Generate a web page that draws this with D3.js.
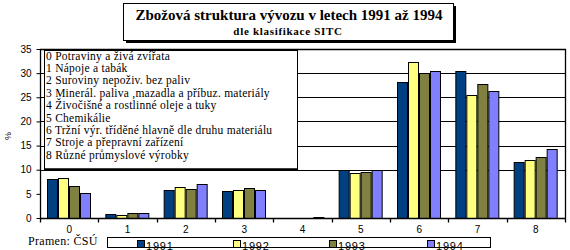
<!DOCTYPE html>
<html><head><meta charset="utf-8">
<script src="https://cdn.jsdelivr.net/npm/d3@7"></script>
<style>
html,body{margin:0;padding:0;background:#fff;}
svg{display:block;}
</style></head>
<body>
<svg id="chart" width="570" height="250"></svg>
<script>
const categories = ["0","1","2","3","4","5","6","7","8"];
const categoryNames = [
  "Potraviny a živá zvířata",
  "Nápoje a tabák",
  "Suroviny nepoživ. bez paliv",
  "Minerál. paliva ,mazadla a příbuz. materiály",
  "Živočišné a rostlinné oleje a tuky",
  "Chemikálie",
  "Tržní výr. tříděné hlavně dle druhu materiálu",
  "Stroje a přepravní zařízení",
  "Různé průmyslové výrobky"
];
const years = ["1991","1992","1993","1994"];
const v1991 = [8.0, 0.9, 5.7, 5.5, 0, 9.9, 28.2, 30.5, 11.5];
const v1992 = [8.2, 0.7, 6.5, 5.7, 0, 9.4, 32.4, 25.5, 12.1];
const v1993 = [6.6, 1.1, 6.1, 6.3, 0, 9.6, 30.0, 27.8, 12.7];
const v1994 = [5.1, 1.1, 7.1, 5.7, 0.3, 9.9, 30.5, 26.2, 14.2];
const yTicks = [0,5,10,15,20,25,30,35];
const gridTicks = [10,15,20,25,30];
const colors = ["#004080","#FFFF80","#808040","#8080FF"];
const title = "Zbožová struktura vývozu v letech 1991 až 1994";
const subtitle = "dle klasifikace SITC";
const source = "Pramen: ČSÚ";
const yLabel = "%";

const series = [v1991, v1992, v1993, v1994];
const svg = d3.select("#chart");
const serif = "'Liberation Serif', 'DejaVu Serif', serif";
const sans = "'Liberation Sans', Arial, sans-serif";

const pL = 40, pR = 565, pT = 49, pB = 218;
const x0 = d3.scaleBand().domain(categories).range([pL, pR]).padding(0);
const bw = x0.bandwidth();
const x1 = d3.scaleBand().domain(years).range([bw*0.125, bw*0.875]).padding(0);
const y = d3.scaleLinear().domain([0,35]).range([pB, pT]);

// gridlines
svg.append("g").selectAll("line").data(gridTicks).join("line")
  .attr("x1", pL).attr("x2", pR)
  .attr("y1", d => Math.round(y(d))+0.5).attr("y2", d => Math.round(y(d))+0.5)
  .attr("stroke", "#000").attr("stroke-width", 1);
// plot top & right border
svg.append("path")
  .attr("d", `M${pL},${pT+0.5}H${pR+0.5}V${pB}`)
  .attr("fill","none").attr("stroke","#000").attr("stroke-width",1.3);

// bars
const groups = svg.append("g").selectAll("g").data(categories).join("g")
  .attr("transform", d => `translate(${x0(d)},0)`);
groups.selectAll("rect").data((c,i) => years.map((yr,j) => ({yr, v: series[j][i], j})).filter(d => d.v > 0))
  .join("rect")
  .attr("x", d => Math.round(x1(d.yr))+0.5)
  .attr("y", d => Math.round(y(d.v))+0.5)
  .attr("width", Math.round(x1.bandwidth())-1)
  .attr("height", d => Math.max(0, Math.round(y(0)) - Math.round(y(d.v))))
  .attr("fill", d => colors[d.j])
  .attr("stroke", "#000").attr("stroke-width", 1);

// y axis
const yAxis = d3.axisLeft(y).tickValues(yTicks).tickSize(4).tickPadding(5).tickFormat(d3.format("d"));
const gy = svg.append("g").attr("transform", `translate(${pL+0.5},0)`).call(yAxis);
gy.select(".domain").attr("d", `M0,${pT}V${pB}`).attr("stroke","#000").attr("stroke-width",1.3);
gy.selectAll(".tick line").attr("stroke","#000");
gy.selectAll(".tick text").attr("font-family", sans).attr("font-size", 10).attr("fill","#000");

// x axis
const gx = svg.append("g").attr("transform", `translate(0,${pB+0.5})`);
gx.append("line").attr("x1", pL).attr("x2", pR+1).attr("stroke","#000").attr("stroke-width",1.3);
const bounds = categories.map(c => x0(c)).concat([pR]);
gx.selectAll(".bt").data(bounds).join("line").attr("class","bt")
  .attr("x1", d => Math.round(d)+0.5).attr("x2", d => Math.round(d)+0.5)
  .attr("y1", 0).attr("y2", 4).attr("stroke","#000").attr("stroke-width",1.3);
gx.selectAll("text").data(categories).join("text")
  .attr("x", d => x0(d) + bw/2).attr("y", 14.5)
  .attr("text-anchor","middle").attr("font-family", sans).attr("font-size", 10)
  .text(d => d);

// y label
svg.append("text").attr("transform","translate(11,136) rotate(-90)")
  .attr("text-anchor","middle").attr("font-family", sans).attr("font-size", 9).text(yLabel);

// category description box
svg.append("rect").attr("x",44.5).attr("y",50.5).attr("width",253).attr("height",118.5)
  .attr("fill","#fff").attr("stroke","#000").attr("stroke-width",1);
svg.append("line").attr("x1",44).attr("x2",298).attr("y1",169.5).attr("y2",169.5)
  .attr("stroke","#000").attr("stroke-width",2);
svg.append("g").selectAll("text").data(categoryNames).join("text")
  .attr("x", 46).attr("y", (d,i) => 59.5 + i*12.4)
  .style("font-family", serif).attr("font-size", 11.5).attr("letter-spacing", 0.25)
  .text((d,i) => categories[i] + " " + d);

// title box with shadow
svg.append("rect").attr("x",126).attr("y",6).attr("width",330).attr("height",37).attr("fill","#000");
svg.append("rect").attr("x",123.5).attr("y",3.5).attr("width",330).attr("height",37)
  .attr("fill","#fff").attr("stroke","#000").attr("stroke-width",1);
svg.append("text").attr("x",289).attr("y",20).attr("text-anchor","middle")
  .style("font-family",serif).attr("font-weight","bold").attr("font-size",15).text(title);
svg.append("text").attr("x",288).attr("y",35).attr("text-anchor","middle")
  .style("font-family",serif).attr("font-weight","bold").attr("font-size",11)
  .attr("letter-spacing",0.7).text(subtitle);

// source
svg.append("text").attr("x",28).attr("y",244.5).style("font-family",serif).attr("font-size",12)
  .attr("letter-spacing",0.3).text(source);

// legend
svg.append("rect").attr("x",107.5).attr("y",237.5).attr("width",383).attr("height",10)
  .attr("fill","#fff").attr("stroke","#000").attr("stroke-width",1);
const legX = [137, 233, 329, 427];
const lg = svg.append("g").selectAll("g").data(years).join("g")
  .attr("transform",(d,i)=>`translate(${legX[i]},0)`);
lg.append("rect").attr("x",0.5).attr("y",240.5).attr("width",7).attr("height",7)
  .attr("fill",(d,i)=>colors[i]).attr("stroke","#000");
lg.append("text").attr("x",9).attr("y",249.5).attr("font-family",sans).attr("font-size",11)
  .attr("letter-spacing",0.8).text(d=>d);
</script>
</body></html>
